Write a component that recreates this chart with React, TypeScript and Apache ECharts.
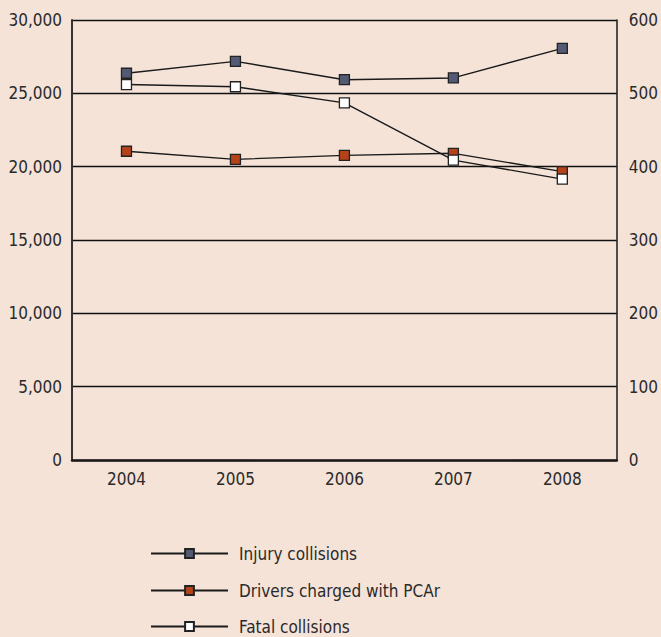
import React, { useEffect, useRef } from "react";
import * as echarts from "echarts";

const years = ["2004", "2005", "2006", "2007", "2008"];
const injuryCollisions = [26370, 27180, 25930, 26050, 28070];
const driversChargedPCAr = [21050, 20500, 20770, 20910, 19660];
const fatalCollisions = [512, 509, 487, 409, 383];

const FONT = "'Liberation Sans Narrow', 'DejaVu Sans Condensed', 'Roboto', sans-serif";
const TEXT = "#2a2a2a";

export default function App() {
  const ref = useRef<HTMLDivElement>(null);
  useEffect(() => {
    if (!ref.current) return;
    const chart = echarts.init(ref.current, undefined, { renderer: "svg" });
    const markerBorder = { borderColor: "#222", borderWidth: 1.3 };
    const lineStyle = { color: "#1a1a1a", width: 1.4 };
    const legendBase = {
      orient: "vertical" as const,
      left: 150,
      padding: 0,
      itemWidth: 77,
      itemHeight: 11,
      itemGap: 10,
      textStyle: { fontFamily: FONT, fontSize: 17, color: TEXT, padding: [0, 0, 0, 6] },
      selectedMode: false,
    };
    chart.setOption({
      animation: false,
      backgroundColor: "#f5e3d8",
      textStyle: { fontFamily: FONT },
      grid: { left: 72, right: 44, top: 20, bottom: 177, containLabel: false },
      legend: [
        { ...legendBase, top: 545, data: ["Injury collisions"] },
        { ...legendBase, top: 582, data: ["Drivers charged with PCAr"] },
        { ...legendBase, top: 618, data: ["Fatal collisions"] },
      ],
      xAxis: {
        type: "category",
        data: years,
        boundaryGap: true,
        axisLine: { lineStyle: { color: "#1a1a1a", width: 2.5 } },
        axisTick: { show: false },
        axisLabel: { fontFamily: FONT, fontSize: 17, color: TEXT, margin: 10 },
      },
      yAxis: [
        {
          type: "value",
          min: 0,
          max: 30000,
          interval: 5000,
          axisLine: { show: true, lineStyle: { color: "#333", width: 2 } },
          axisTick: { show: false },
          splitLine: { show: true, lineStyle: { color: "#111", width: 1.3 } },
          axisLabel: {
            fontFamily: FONT,
            fontSize: 17,
            color: TEXT,
            margin: 10,
            formatter: (v: number) => v.toLocaleString("en-US"),
          },
        },
        {
          type: "value",
          min: 0,
          max: 600,
          interval: 100,
          position: "right",
          axisLine: { show: true, lineStyle: { color: "#1a1a1a", width: 1.5 } },
          axisTick: { show: false },
          splitLine: { show: false },
          axisLabel: { fontFamily: FONT, fontSize: 17, color: TEXT, margin: 12 },
        },
      ],
      series: [
        {
          name: "Injury collisions",
          type: "line",
          yAxisIndex: 0,
          data: injuryCollisions,
          symbol: "rect",
          symbolSize: 10,
          color: "#535b74",
          itemStyle: { color: "#535b74", ...markerBorder },
          lineStyle,
        },
        {
          name: "Drivers charged with PCAr",
          type: "line",
          yAxisIndex: 0,
          data: driversChargedPCAr,
          symbol: "rect",
          symbolSize: 10,
          color: "#b5431a",
          itemStyle: { color: "#b5431a", ...markerBorder },
          lineStyle,
        },
        {
          name: "Fatal collisions",
          type: "line",
          yAxisIndex: 1,
          data: fatalCollisions,
          symbol: "rect",
          symbolSize: 10,
          color: "#ffffff",
          itemStyle: { color: "#ffffff", ...markerBorder },
          lineStyle,
        },
      ],
    });
    return () => chart.dispose();
  }, []);
  return (
    <div
      ref={ref}
      style={{ position: "fixed", left: 0, top: 0, width: 661, height: 637 }}
    />
  );
}
